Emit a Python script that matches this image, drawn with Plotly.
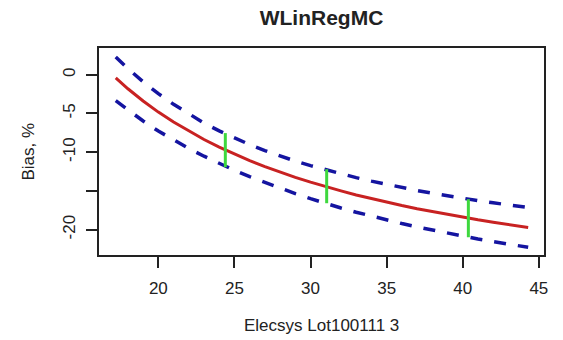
import plotly.graph_objects as go

# ---- data ----
x_vals = [17.2, 18, 19, 20, 21, 22, 23, 24, 25, 26, 27, 28, 29, 30, 31, 32,
          33, 34, 35, 36, 37, 38, 39, 40, 41, 42, 43, 44, 44.3]
bias_fit = [-0.40, -1.81, -3.39, -4.82, -6.11, -7.29, -8.36, -9.34, -10.25,
            -11.08, -11.85, -12.57, -13.24, -13.86, -14.45, -14.99, -15.51,
            -15.99, -16.45, -16.88, -17.29, -17.67, -18.04, -18.39, -18.72,
            -19.03, -19.33, -19.62, -19.70]
bias_upper = [2.30, 0.79, -0.91, -2.44, -3.82, -5.09, -6.23, -7.25, -8.18,
              -9.02, -9.79, -10.49, -11.14, -11.73, -12.28, -12.79, -13.28,
              -13.73, -14.16, -14.56, -14.94, -15.29, -15.63, -15.95, -16.25,
              -16.53, -16.80, -17.06, -17.13]
bias_lower = [-3.35, -4.56, -5.97, -7.27, -8.44, -9.52, -10.51, -11.44,
              -12.33, -13.15, -13.92, -14.65, -15.34, -15.99, -16.62, -17.19,
              -17.74, -18.25, -18.74, -19.20, -19.64, -20.05, -20.45, -20.83,
              -21.19, -21.53, -21.86, -22.18, -22.27]
ci_x = [24.4, 31.06, 40.37]
ci_low = [-11.93, -16.58, -20.97]
ci_high = [-7.53, -12.19, -16.06]

x_ticks = [20, 25, 30, 35, 40, 45]
y_ticks = [0, -5, -10, -15, -20]
y_ticktext = ["0", "-5", "-10", "", "-20"]

title_text = "WLinRegMC"
x_title = "Elecsys Lot100111 3"
y_title = "Bias, %"

FONT = "Liberation Sans, Arial, sans-serif"
RED = "#C82222"
BLUE = "#1414A0"
GREEN = "#3ED83E"

fig = go.Figure()
fig.add_trace(go.Scatter(x=x_vals, y=bias_fit, mode="lines",
                         line=dict(color=RED, width=3), hoverinfo="skip"))
for band in (bias_upper, bias_lower):
    fig.add_trace(go.Scatter(x=x_vals, y=band, mode="lines",
                             line=dict(color=BLUE, width=3.5, dash="12px,12px"),
                             hoverinfo="skip"))

gx, gy = [], []
for xv, lo, hi in zip(ci_x, ci_low, ci_high):
    gx += [xv, xv, None]
    gy += [lo, hi, None]
fig.add_trace(go.Scatter(x=gx, y=gy, mode="lines",
                         line=dict(color=GREEN, width=3), hoverinfo="skip"))

fig.update_layout(
    width=563, height=340,
    margin=dict(l=99, r=19, t=48, b=85),
    paper_bgcolor="white", plot_bgcolor="white",
    showlegend=False,
    font=dict(family=FONT, size=17, color="#222"),
    title=dict(text="<b>" + title_text + "</b>", x=0.5, xref="paper",
               xanchor="center", y=1 - 18 / 340, yref="container",
               yanchor="middle", font=dict(family=FONT, size=21, color="#222")),
    xaxis=dict(range=[16.10, 45.34], tickvals=x_ticks, ticks="outside",
               ticklen=11, tickwidth=1.5, tickcolor="#222",
               showline=True, linecolor="#222", linewidth=1.5, mirror=True,
               showgrid=False, zeroline=False, ticklabelstandoff=6,
               tickfont=dict(family=FONT, size=17, color="#222")),
    yaxis=dict(range=[-23.26, 3.45], tickvals=y_ticks, ticktext=y_ticktext,
               ticks="outside", ticklen=11, tickwidth=1.5, tickcolor="#222",
               tickangle=-90, showline=True, linecolor="#222", linewidth=1.5,
               mirror=True, showgrid=False, zeroline=False,
               ticklabelstandoff=4,
               tickfont=dict(family=FONT, size=17, color="#222")),
    annotations=[
        dict(text=x_title, xref="paper", yref="paper", x=0.5, y=0,
             yshift=-70, xanchor="center", yanchor="middle", showarrow=False,
             font=dict(family=FONT, size=17, color="#222")),
        dict(text=y_title, xref="paper", yref="paper", x=0, y=0.5,
             xshift=-71, xanchor="center", yanchor="middle", showarrow=False,
             textangle=-90, font=dict(family=FONT, size=17, color="#222")),
    ],
)

fig.write_html("out.html")
